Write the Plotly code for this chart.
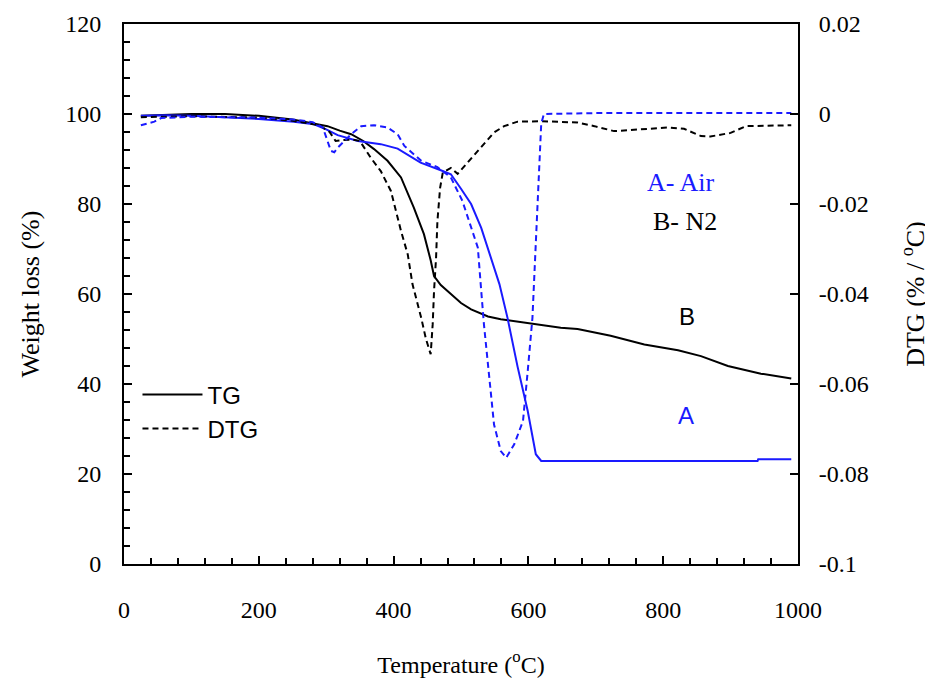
import plotly.graph_objects as go

# ---- data ----
# TG, nitrogen (B), weight %
tg_n2_T = [25, 100, 150, 200, 250, 280, 302, 320, 337, 355, 371, 391, 411, 430, 445, 455, 460,
           470, 485, 500, 515, 540, 559, 585, 609, 648, 673, 700, 722, 772, 822, 856, 896, 945, 990]
tg_n2_W = [99.6, 100, 100, 99.6, 98.8, 98.0, 97.3, 96.3, 95.5, 94.0, 92.2, 89.6, 85.9, 79.2, 73.3, 67.5, 64.0,
           62.0, 60.0, 58.0, 56.6, 55.0, 54.4, 53.8, 53.3, 52.5, 52.2, 51.3, 50.7, 48.8, 47.5, 46.2, 44.0, 42.3, 41.2]

# TG, air (A), weight %
tg_air_T = [25, 60, 100, 150, 200, 252, 282, 300, 317, 347, 381, 406, 440, 470, 485, 500, 515, 530,
            545, 557, 569, 584, 599, 611, 619, 940, 941, 990]
tg_air_W = [99.6, 99.7, 99.6, 99.3, 98.9, 98.3, 97.7, 96.6, 95.3, 94.0, 93.3, 92.3, 89.2, 87.5, 86.6, 83.4, 80.0, 74.7,
            68.0, 62.2, 54.7, 43.8, 34.0, 24.4, 22.9, 22.9, 23.3, 23.3]

# DTG, nitrogen (B), %/°C
dtg_n2_T = [25, 100, 200, 250, 290, 305, 314, 325, 340, 350, 366, 381, 396, 411, 421, 428, 441, 448, 455,
            458, 460, 463, 465, 469, 473, 485, 495, 510, 530, 549, 564, 584, 619, 673, 698, 727, 748, 807,
            831, 856, 870, 900, 923, 960, 990]
dtg_n2 = [-0.0007, -0.0005, -0.0008, -0.0015, -0.0025, -0.0040, -0.0060, -0.0058, -0.0057, -0.0060, -0.0097,
          -0.0127, -0.0171, -0.0260, -0.0312, -0.0378, -0.0453, -0.0500, -0.0534,
          -0.0467, -0.0393, -0.0320, -0.0238, -0.0164, -0.0130, -0.0120, -0.0133, -0.0108, -0.0075, -0.0041,
          -0.0027, -0.0017, -0.0016, -0.0019, -0.0027, -0.0038, -0.0036, -0.0030,
          -0.0033, -0.0049, -0.0050, -0.0042, -0.0027, -0.0025, -0.0025]

# DTG, air (A), %/°C
dtg_air_T = [25, 45, 55, 100, 200, 250, 280, 295, 307, 312, 317, 337, 352, 371, 391, 406, 416, 441, 465,
             485, 502, 515, 525, 530, 534, 542, 549, 559, 567, 579, 592, 599, 602, 606, 610, 614, 619, 623,
             700, 800, 900, 990]
dtg_air = [-0.0025, -0.0017, -0.0009, -0.0006, -0.0008, -0.0012, -0.0018, -0.0030, -0.0082, -0.0085, -0.0075,
           -0.0045, -0.0027, -0.0025, -0.0030, -0.0045, -0.0071, -0.0104, -0.0118,
           -0.0141, -0.0193, -0.0253, -0.0297, -0.0393, -0.0467, -0.0586, -0.0690, -0.0749, -0.0764, -0.0734,
           -0.0682, -0.0571, -0.0527, -0.0453, -0.0320, -0.0171, -0.0022, 0.0,
           0.0002, 0.0002, 0.0002, 0.0002]

# right-axis tick values and labels (hyphen minus as in the reference)
dtg_tickvals = [0.02, 0.0, -0.02, -0.04, -0.06, -0.08, -0.1]
dtg_ticktext = ["0.02", "0", "-0.02", "-0.04", "-0.06", "-0.08", "-0.1"]

BLUE = "#1a1aff"
SERIF = "Liberation Serif"
SANS = "Liberation Sans"

fig = go.Figure()
fig.add_trace(go.Scatter(x=tg_n2_T, y=tg_n2_W, mode="lines", line=dict(color="black", width=2),
                         showlegend=False))
fig.add_trace(go.Scatter(x=tg_air_T, y=tg_air_W, mode="lines", line=dict(color=BLUE, width=2),
                         showlegend=False))
fig.add_trace(go.Scatter(x=dtg_n2_T, y=dtg_n2, mode="lines", yaxis="y2",
                         line=dict(color="black", width=2, dash="6px,4px"), showlegend=False))
fig.add_trace(go.Scatter(x=dtg_air_T, y=dtg_air, mode="lines", yaxis="y2",
                         line=dict(color=BLUE, width=2, dash="6px,4px"), showlegend=False))
# legend entries
fig.add_trace(go.Scatter(x=[None], y=[None], mode="lines", name="TG",
                         line=dict(color="black", width=2)))
fig.add_trace(go.Scatter(x=[None], y=[None], mode="lines", name="DTG",
                         line=dict(color="black", width=2, dash="6px,4px")))

fig.update_layout(
    width=933, height=684,
    margin=dict(l=116, r=143, t=16, b=128, autoexpand=False),
    paper_bgcolor="white", plot_bgcolor="white",
    font=dict(family=SERIF, size=24, color="black"),
    showlegend=True,
    legend=dict(x=0.02, y=0.355, xanchor="left", yanchor="top", bgcolor="rgba(0,0,0,0)",
                font=dict(family=SANS, size=24), itemwidth=60, tracegroupgap=0),
    xaxis=dict(range=[0, 1000], dtick=200, tick0=0, showgrid=False, zeroline=False, automargin=False,
               showline=True, linecolor="black", linewidth=1.8, mirror=True,
               ticks="inside", ticklen=8, tickcolor="black", tickwidth=1.5,
               minor=dict(dtick=40, ticks="inside", ticklen=6, tickcolor="black", tickwidth=1.5),
               ticklabelstandoff=23,
               title=dict(text="Temperature (<sup>o</sup>C)", font=dict(size=24), standoff=34)),
    yaxis=dict(range=[0, 120], dtick=20, tick0=0, showgrid=False, zeroline=False, automargin=False,
               showline=True, linecolor="black", linewidth=2,
               ticks="inside", ticklen=8, tickcolor="black", tickwidth=1.5,
               minor=dict(dtick=4, ticks="inside", ticklen=6, tickcolor="black", tickwidth=1.5),
               ticklabelstandoff=16,
               title=dict(text="Weight loss (%)", font=dict(size=26), standoff=18)),
    yaxis2=dict(range=[-0.1, 0.02], tickmode="array", tickvals=dtg_tickvals, ticktext=dtg_ticktext,
                overlaying="y", side="right",
                showgrid=False, zeroline=False, showline=True, linecolor="black", linewidth=2,
                automargin=False,
                ticks="inside", ticklen=8, tickcolor="black", tickwidth=1.5,
                ticklabelstandoff=14,
                title=dict(text="DTG (% / <sup>o</sup>C)", font=dict(size=26), standoff=38)),
)

fig.add_annotation(x=826, y=84.7, text="A- Air", showarrow=False,
                   font=dict(family=SERIF, size=26, color=BLUE))
fig.add_annotation(x=832, y=76.2, text="B- N2", showarrow=False,
                   font=dict(family=SERIF, size=26, color="black"))
fig.add_annotation(x=835, y=54.9, text="B", showarrow=False,
                   font=dict(family=SANS, size=24, color="black"))
fig.add_annotation(x=834, y=33.1, text="A", showarrow=False,
                   font=dict(family=SANS, size=24, color=BLUE))

fig.write_html("out.html")
